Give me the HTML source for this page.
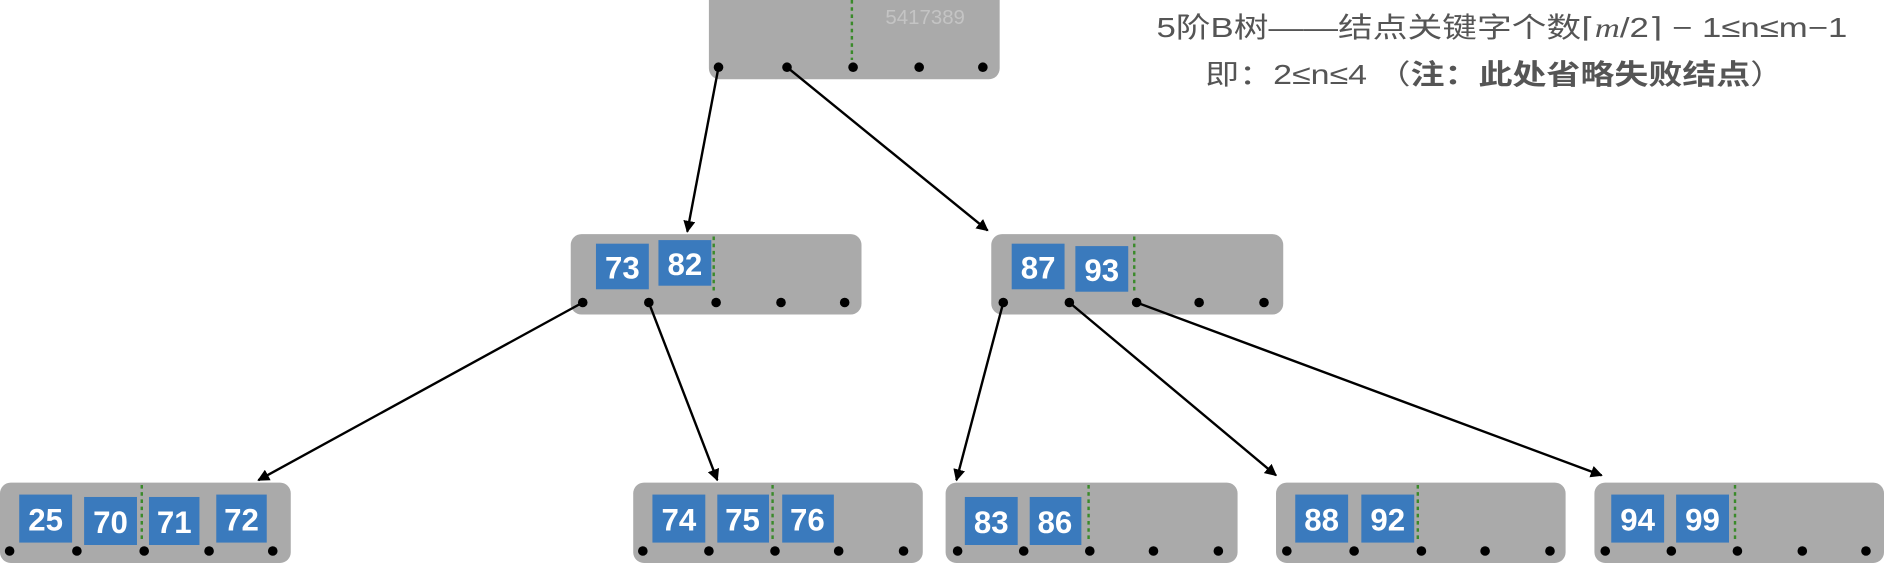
<!DOCTYPE html>
<html><head><meta charset="utf-8"><style>
html,body{margin:0;padding:0;background:#fff;}
svg{display:block;}
text{font-family:"Liberation Sans","Noto Sans CJK SC",sans-serif;}
</style></head><body>
<svg width="1884" height="563" viewBox="0 0 1568 469" preserveAspectRatio="none" xmlns="http://www.w3.org/2000/svg">
<defs>
<marker id="ah" markerWidth="10" markerHeight="10" refX="9" refY="5" orient="auto" markerUnits="userSpaceOnUse">
<path d="M0,0 L10,5 L0,10 z" fill="#000"/>
</marker>
</defs>
<g fill="#aaaaaa">
<rect x="590" y="-10" width="242" height="76" rx="9"/>
<rect x="475" y="195" width="242" height="67" rx="9"/>
<rect x="825" y="195" width="243" height="67" rx="9"/>
<rect x="0" y="402" width="242" height="67" rx="9"/>
<rect x="527" y="402" width="241" height="67" rx="9"/>
<rect x="787" y="402" width="243" height="67" rx="9"/>
<rect x="1062" y="402" width="241" height="67" rx="9"/>
<rect x="1327" y="402" width="241" height="67" rx="9"/>
</g>
<text x="770" y="20" font-size="17" fill="#c4c4c4" text-anchor="middle">5417389</text>
<g stroke="#3a8a2a" stroke-width="2" stroke-dasharray="3,3">
<line x1="709" y1="0" x2="709" y2="50"/>
<line x1="594" y1="197" x2="594" y2="245"/>
<line x1="944" y1="197" x2="944" y2="245"/>
<line x1="118" y1="404" x2="118" y2="452"/>
<line x1="643" y1="404" x2="643" y2="452"/>
<line x1="906" y1="404" x2="906" y2="452"/>
<line x1="1180" y1="404" x2="1180" y2="452"/>
<line x1="1444" y1="404" x2="1444" y2="452"/>
</g>
<g fill="#3a7abd">
<rect x="496" y="203" width="44" height="38"/><rect x="548" y="200" width="44" height="38"/>
<rect x="842" y="203" width="44" height="38"/><rect x="895" y="205" width="44" height="38"/>
<rect x="16" y="412" width="44" height="40"/><rect x="70" y="414" width="44" height="40"/><rect x="124" y="414" width="42" height="40"/><rect x="180" y="412" width="42" height="40"/>
<rect x="543" y="412" width="44" height="40"/><rect x="597" y="412" width="43" height="40"/><rect x="651" y="412" width="43" height="40"/>
<rect x="803" y="414" width="44" height="40"/><rect x="857" y="414" width="43" height="40"/>
<rect x="1078" y="412" width="44" height="40"/><rect x="1133" y="412" width="44" height="40"/>
<rect x="1341" y="412" width="44" height="40"/><rect x="1395" y="412" width="44" height="40"/>
</g>
<g fill="#fff" font-size="26" font-weight="bold" text-anchor="middle">
<text x="518" y="232">73</text><text x="570" y="229">82</text>
<text x="864" y="232">87</text><text x="917" y="234">93</text>
<text x="38" y="442">25</text><text x="92" y="444">70</text><text x="145" y="444">71</text><text x="201" y="442">72</text>
<text x="565" y="442">74</text><text x="618" y="442">75</text><text x="672" y="442">76</text>
<text x="825" y="444">83</text><text x="878" y="444">86</text>
<text x="1100" y="442">88</text><text x="1155" y="442">92</text>
<text x="1363" y="442">94</text><text x="1417" y="442">99</text>
</g>
<g fill="#000">
<circle cx="598" cy="56" r="4"/><circle cx="655" cy="56" r="4"/><circle cx="710" cy="56" r="4"/><circle cx="765" cy="56" r="4"/><circle cx="818" cy="56" r="4"/>
<circle cx="485" cy="252" r="4"/><circle cx="540" cy="252" r="4"/><circle cx="596" cy="252" r="4"/><circle cx="650" cy="252" r="4"/><circle cx="703" cy="252" r="4"/>
<circle cx="835" cy="252" r="4"/><circle cx="890" cy="252" r="4"/><circle cx="946" cy="252" r="4"/><circle cx="998" cy="252" r="4"/><circle cx="1052" cy="252" r="4"/>
<circle cx="8" cy="459" r="4"/><circle cx="64" cy="459" r="4"/><circle cx="120" cy="459" r="4"/><circle cx="174" cy="459" r="4"/><circle cx="227" cy="459" r="4"/>
<circle cx="535" cy="459" r="4"/><circle cx="590" cy="459" r="4"/><circle cx="645" cy="459" r="4"/><circle cx="698" cy="459" r="4"/><circle cx="752" cy="459" r="4"/>
<circle cx="797" cy="459" r="4"/><circle cx="852" cy="459" r="4"/><circle cx="907" cy="459" r="4"/><circle cx="960" cy="459" r="4"/><circle cx="1014" cy="459" r="4"/>
<circle cx="1071" cy="459" r="4"/><circle cx="1127" cy="459" r="4"/><circle cx="1183" cy="459" r="4"/><circle cx="1236" cy="459" r="4"/><circle cx="1290" cy="459" r="4"/>
<circle cx="1336" cy="459" r="4"/><circle cx="1391" cy="459" r="4"/><circle cx="1446" cy="459" r="4"/><circle cx="1500" cy="459" r="4"/><circle cx="1553" cy="459" r="4"/>
</g>
<g stroke="#000" stroke-width="2" marker-end="url(#ah)">
<line x1="598" y1="56" x2="572" y2="193"/>
<line x1="655" y1="56" x2="822" y2="192"/>
<line x1="485" y1="252" x2="215" y2="400"/>
<line x1="540" y1="252" x2="597" y2="400"/>
<line x1="835" y1="252" x2="796" y2="400"/>
<line x1="890" y1="252" x2="1062" y2="396"/>
<line x1="946" y1="252" x2="1333" y2="396"/>
</g>
<text x="1250" y="31" font-size="23" fill="#555" text-anchor="middle" textLength="575" lengthAdjust="spacingAndGlyphs">5阶B树——结点关键字个数⌈<tspan font-family="Liberation Serif" font-style="italic">m</tspan>/2⌉ − 1≤n≤m−1</text>
<text x="1244" y="70" font-size="23" fill="#555" text-anchor="middle" textLength="482" lengthAdjust="spacingAndGlyphs">即：2≤n≤4 （<tspan font-weight="bold">注：此处省略失败结点</tspan>）</text>
</svg>
</body></html>
